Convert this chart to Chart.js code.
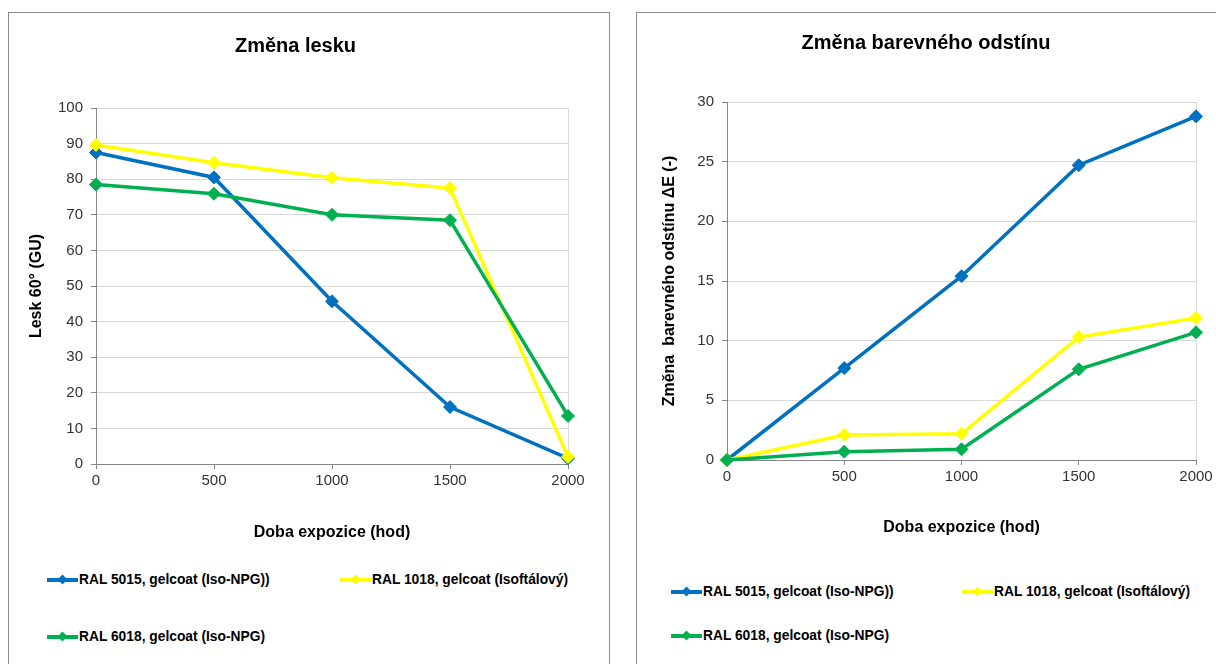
<!DOCTYPE html>
<html>
<head>
<meta charset="utf-8">
<script src="https://cdn.jsdelivr.net/npm/chart.js@4.4.1/dist/chart.umd.min.js"></script>
<style>
  body { margin: 0; background: #fff; font-family: "Liberation Sans", Arial, sans-serif; }
  .box { position: absolute; border: 1px solid #8c8c8c; background: #fff; }
  canvas { position: absolute; }
  .leg { position: absolute; font-weight: bold; font-size: 13.8px; color: #000; white-space: nowrap; line-height: 16px; }
  .leg .sw { position: absolute; left: 0; top: 6px; width: 31px; height: 4px; }
  .leg .dm { position: absolute; left: 12px; top: 4px; width: 7px; height: 7px; transform: rotate(45deg); }
  .leg span.t { position: absolute; left: 32px; top: 0; }
</style>
</head>
<body>
<div class="box" style="left:8px;top:12px;width:600px;height:700px"></div>
<div class="box" style="left:636px;top:12px;width:640px;height:700px"></div>
<canvas id="chLesk" style="left:9px;top:13px" width="598" height="540"></canvas>
<canvas id="chOdstin" style="left:637px;top:13px" width="579" height="540"></canvas>
<div id="legendy"></div>
<script>
// doba expozice (hod)
const hodiny = [0, 500, 1000, 1500, 2000];
const nazvy = ["RAL 5015, gelcoat (Iso-NPG))", "RAL 1018, gelcoat (Isoftálový)", "RAL 6018, gelcoat (Iso-NPG)"];
const barvy = ["#0070C0", "#FFFF00", "#00B050"];

// lesk 60° (GU)
const lesk5015 = [87.5, 80.5, 45.7, 16, 1.6];
const lesk1018 = [89.6, 84.6, 80.4, 77.5, 2];
const lesk6018 = [78.5, 75.9, 70, 68.5, 13.5];

// změna barevného odstínu dE
const dE5015 = [0, 7.7, 15.4, 24.7, 28.8];
const dE1018 = [0, 2.1, 2.2, 10.3, 11.9];
const dE6018 = [0, 0.7, 0.9, 7.6, 10.7];

const hodTicks = [0, 500, 1000, 1500, 2000];

function body(vals) {
  return hodiny.map((h, i) => ({ x: h, y: vals[i] }));
}

function sada(i, vals) {
  return {
    label: nazvy[i],
    data: body(vals),
    borderColor: barvy[i],
    backgroundColor: barvy[i],
    borderWidth: 3.5,
    pointStyle: 'rectRot',
    pointRadius: 6.5,
    pointBorderWidth: 1,
    tension: 0,
    clip: false,
    order: 3 - i   // jako v Excelu: dalsi rada kresli navrch
  };
}

function createLineChart(id, titulek, yTitulek, yMax, yStep, rozmery, rady) {
  new Chart(id, {
    type: "line",
    data: { datasets: rady },
    options: {
      responsive: false,
      animation: false,
      layout: { padding: { left: rozmery.padL, right: rozmery.padR, top: 0, bottom: rozmery.padB } },
      plugins: {
        legend: { display: false },
        tooltip: { enabled: false },
        title: {
          display: true,
          text: titulek,
          color: "#000",
          font: { family: "Liberation Sans", size: 20, weight: "bold" },
          padding: { top: rozmery.titTop, bottom: rozmery.titBot }
        }
      },
      scales: {
        x: {
          type: "linear",
          min: 0, max: 2000,
          afterBuildTicks: s => { s.ticks = hodTicks.map(v => ({ value: v })); },
          afterFit: s => { s.height = rozmery.xH; },
          ticks: {
            color: "#333", font: { family: "Liberation Sans", size: 15 }, padding: 3, maxRotation: 0,
            callback: v => String(v)
          },
          grid: {
            color: c => (c.tick && c.tick.value === 2000) ? "#d9d9d9" : "rgba(0,0,0,0)",
            tickColor: "#868686",
            tickLength: 5,
            drawOnChartArea: true
          },
          border: { color: "#868686", width: 1 },
          title: {
            display: true,
            text: "Doba expozice (hod)",
            color: "#000",
            font: { family: "Liberation Sans", size: 16, weight: "bold" }
          }
        },
        y: {
          min: 0, max: yMax,
          afterFit: s => { s.width = rozmery.yW; },
          ticks: { stepSize: yStep, color: "#333", font: { family: "Liberation Sans", size: 15 }, padding: 8 },
          grid: { color: "#d9d9d9", tickColor: "#868686", tickLength: 5 },
          border: { color: "#868686", width: 1 },
          title: {
            display: true,
            text: yTitulek,
            color: "#000",
            font: { family: "Liberation Sans", size: 16, weight: "bold" }
          }
        }
      }
    }
  });
}

createLineChart("chLesk", "Změna lesku", "Lesk 60° (GU)", 100, 10,
  { padL: 14, padR: 39, padB: 7, titTop: 21, titBot: 50, xH: 82, yW: 73 },
  [sada(0, lesk5015), sada(1, lesk1018), sada(2, lesk6018)]);

createLineChart("chOdstin", "Změna barevného odstínu", "Změna  barevného odstínu ΔE (-)", 30, 5,
  { padL: 19, padR: 20, padB: 12, titTop: 18, titBot: 47, xH: 81, yW: 71 },
  [sada(0, dE5015), sada(1, dE1018), sada(2, dE6018)]);

// legenda (HTML)
const legPozice = [
  [[47, 572], [340, 572], [47, 629]],
  [[671, 584], [962, 584], [671, 628]]
];
let html = "";
legPozice.forEach(graf => {
  graf.forEach((p, i) => {
    html += '<div class="leg" style="left:' + p[0] + 'px;top:' + p[1] + 'px">' +
      '<div class="sw" style="background:' + barvy[i] + '"></div>' +
      '<div class="dm" style="background:' + barvy[i] + '"></div>' +
      '<span class="t">' + nazvy[i] + '</span></div>';
  });
});
document.getElementById("legendy").innerHTML = html;
</script>
</body>
</html>
